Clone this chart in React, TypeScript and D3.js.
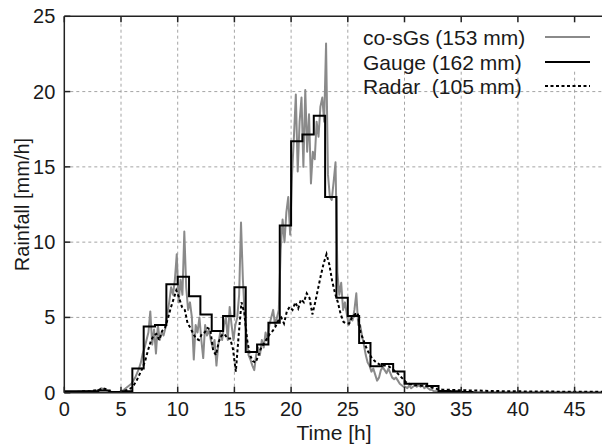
import React from "react";
import * as d3 from "d3";

// ---- Data ----
// Gauge: hourly rainfall intensity [mm/h], hour h covers [h, h+1)
const gaugeHourly: number[] = [
  0.1, 0.1, 0.1, 0.15, 0.05, 0.1, 1.6, 4.4, 4.5, 7.2,
  7.7, 6.4, 5.2, 4.1, 5.1, 7.0, 2.7, 3.2, 4.65, 11.1,
  16.7, 17.15, 18.4, 13.0, 6.3, 5.1, 3.3, 1.75, 1.9, 1.4,
  0.6, 0.6, 0.45, 0.12, 0.1, 0.05, 0, 0, 0, 0,
  0, 0, 0, 0, 0, 0, 0, 0,
];

// co-sGs: 10-minute values, one row per hour
const cosgsRows: number[][] = [
  [0.05, 0.05, 0.05, 0.05, 0.05, 0.05],
  [0.05, 0.08, 0.08, 0.08, 0.1, 0.1],
  [0.1, 0.1, 0.12, 0.12, 0.15, 0.15],
  [0.2, 0.3, 0.25, 0.2, 0.15, 0.1],
  [0.05, 0.02, 0.02, 0.02, 0.02, 0.05],
  [0.1, 0.2, 0.3, 0.4, 0.5, 0.6],
  [0.8, 1.0, 1.3, 1.6, 2.0, 2.6],
  [3.0, 3.5, 4.0, 5.4, 3.2, 4.2],
  [2.6, 4.5, 3.5, 4.0, 3.8, 4.3],
  [5.2, 6.0, 7.0, 6.5, 7.5, 9.2],
  [6.0, 7.5, 6.5, 10.7, 7.0, 5.5],
  [6.0, 5.0, 2.2, 4.5, 4.0, 5.0],
  [3.5, 2.3, 4.5, 3.8, 4.2, 3.5],
  [3.0, 3.5, 1.8, 3.2, 4.0, 3.5],
  [4.5, 5.0, 3.5, 5.7, 4.5, 3.5],
  [4.5, 5.0, 6.5, 11.3, 7.5, 5.0],
  [3.5, 2.5, 2.2, 1.8, 1.5, 2.5],
  [3.0, 2.5, 3.5, 3.0, 4.0, 3.5],
  [4.5, 5.0, 5.5, 4.5, 5.0, 5.5],
  [9.5, 11.5, 10.0, 12.0, 13.0, 10.5],
  [14.5, 17.0, 19.8, 14.7, 18.0, 19.6],
  [15.0, 20.1, 16.0, 18.5, 13.9, 16.0],
  [15.5, 18.0, 17.0, 19.0, 19.6, 18.0],
  [23.2, 14.5, 13.0, 12.8, 14.0, 15.3],
  [8.0, 6.5, 7.3, 5.5, 6.0, 5.2],
  [4.5, 5.0, 4.8, 5.5, 6.6, 4.5],
  [4.5, 3.8, 3.2, 2.5, 2.0, 1.8],
  [1.4, 1.6, 1.2, 0.8, 1.0, 1.5],
  [1.7, 1.5, 1.3, 1.6, 1.3, 1.0],
  [0.9, 1.0, 0.8, 0.6, 0.5, 0.4],
  [0.4, 0.3, 0.5, 0.3, 0.4, 0.5],
  [0.4, 0.5, 0.4, 0.5, 0.3, 0.4],
  [0.3, 0.2, 0.2, 0.1, 0.1, 0.1],
  [0.08, 0.06, 0.05, 0.05, 0.04, 0.04],
  [0.03, 0.03, 0.03, 0.03, 0.02, 0.02],
  [0.02, 0.02, 0.02, 0.02, 0.02, 0.02],
  [0.02, 0.02, 0.02, 0.02, 0.02, 0.02],
  [0.02, 0.02, 0.02, 0.02, 0.02, 0.02],
  [0.02, 0.02, 0.02, 0.02, 0.02, 0.02],
  [0.02, 0.02, 0.02, 0.02, 0.02, 0.02],
  [0.02, 0.02, 0.02, 0.02, 0.02, 0.02],
  [0.02, 0.02, 0.02, 0.02, 0.02, 0.02],
  [0.02, 0.02, 0.02, 0.02, 0.02, 0.02],
  [0.02, 0.02, 0.02, 0.02, 0.02, 0.02],
  [0.02, 0.02, 0.02, 0.02, 0.02, 0.02],
  [0.02, 0.02, 0.02, 0.02, 0.02, 0.02],
  [0.02, 0.02, 0.02, 0.02, 0.02, 0.02],
  [0.02, 0.02, 0.02, 0.02, 0.02, 0.02],
];

// Radar: 15-minute values, one row per hour
const radarRows: number[][] = [
  [0.05, 0.05, 0.05, 0.05],
  [0.05, 0.05, 0.1, 0.1],
  [0.1, 0.1, 0.15, 0.15],
  [0.2, 0.3, 0.25, 0.15],
  [0.05, 0.02, 0.02, 0.05],
  [0.1, 0.15, 0.2, 0.3],
  [0.5, 0.8, 1.2, 1.6],
  [2.1, 2.8, 3.4, 3.8],
  [3.9, 3.5, 4.1, 4.3],
  [4.9, 5.6, 6.2, 6.8],
  [6.3, 5.7, 5.5, 4.6],
  [4.3, 3.9, 3.6, 3.5],
  [3.9, 4.0, 4.3, 4.2],
  [2.8, 2.5, 3.4, 3.8],
  [3.9, 3.6, 3.6, 2.9],
  [1.4, 3.8, 6.0, 5.3],
  [3.5, 2.5, 2.1, 2.0],
  [2.5, 3.0, 3.3, 3.6],
  [3.9, 4.1, 4.4, 4.8],
  [5.0, 4.6, 5.4, 5.7],
  [5.5, 6.0, 5.6, 6.2],
  [6.0, 6.6, 6.3, 5.2],
  [6.0, 6.9, 7.8, 8.6],
  [9.2, 8.5, 7.4, 6.6],
  [6.0, 5.2, 4.7, 4.6],
  [4.6, 5.0, 5.2, 5.3],
  [4.0, 3.5, 3.0, 2.6],
  [2.3, 2.1, 1.95, 1.85],
  [1.8, 1.8, 1.75, 1.6],
  [1.45, 1.3, 1.1, 0.9],
  [0.7, 0.6, 0.55, 0.5],
  [0.5, 0.48, 0.45, 0.45],
  [0.42, 0.35, 0.3, 0.25],
  [0.22, 0.2, 0.2, 0.2],
  [0.18, 0.18, 0.17, 0.17],
  [0.16, 0.16, 0.15, 0.15],
  [0.15, 0.14, 0.14, 0.13],
  [0.13, 0.12, 0.12, 0.12],
  [0.11, 0.11, 0.1, 0.1],
  [0.1, 0.1, 0.1, 0.09],
  [0.09, 0.09, 0.08, 0.08],
  [0.08, 0.08, 0.08, 0.08],
  [0.08, 0.08, 0.08, 0.08],
  [0.08, 0.07, 0.07, 0.07],
  [0.07, 0.07, 0.07, 0.07],
  [0.07, 0.07, 0.07, 0.07],
  [0.07, 0.07, 0.07, 0.07],
  [0.07, 0.07, 0.07, 0.07],
];

const xTicks = [0, 5, 10, 15, 20, 25, 30, 35, 40, 45];
const yTicks = [0, 5, 10, 15, 20, 25];
const legendLabels = ["co-sGs (153 mm)", "Gauge (162 mm)", "Radar  (105 mm)"];

const W = 602;
const H = 446;
const FONT = "'Liberation Sans', Arial, Helvetica, sans-serif";

export default function App() {
  const x = d3.scaleLinear().domain([0, 48]).range([64.3, 64.3 + 48 * 11.34]);
  const y = d3.scaleLinear().domain([0, 25]).range([392.7, 16.3]);
  const left = x(0);
  const right = W;
  const top = y(25);
  const bottom = y(0);

  const cosgs: [number, number][] = [];
  cosgsRows.forEach((row, h) =>
    row.forEach((v, i) => cosgs.push([h + (i + 0.5) / row.length, v]))
  );
  const radar: [number, number][] = [];
  radarRows.forEach((row, h) =>
    row.forEach((v, i) => radar.push([h + (i + 0.5) / row.length, v]))
  );
  const gauge: [number, number][] = gaugeHourly.map((v, h) => [h, v]);
  gauge.push([gaugeHourly.length, gaugeHourly[gaugeHourly.length - 1]]);

  const line = d3
    .line<[number, number]>()
    .x((d) => x(d[0]))
    .y((d) => y(d[1]));
  const stepLine = d3
    .line<[number, number]>()
    .x((d) => x(d[0]))
    .y((d) => y(d[1]))
    .curve(d3.curveStepAfter);

  const tickLen = 6;
  const legX = 363;
  const legRowY = [37, 62, 86];
  const textColor = "#1a1a1a";

  return (
    <svg
      width={W}
      height={H}
      style={{ position: "absolute", left: 0, top: 0, background: "#fff" }}
      fontFamily={FONT}
    >
      <defs>
        <clipPath id="plotclip">
          <rect x={left} y={top} width={right - left} height={bottom - top} />
        </clipPath>
      </defs>
      <rect x={0} y={0} width={W} height={H} fill="#fff" />
      {/* grid */}
      <g stroke="#9a9a9a" strokeWidth={0.9} strokeDasharray="3,3">
        {xTicks
          .filter((t) => t > 0)
          .map((t) => (
            <line key={"gx" + t} x1={x(t)} x2={x(t)} y1={bottom} y2={top} />
          ))}
        {yTicks
          .filter((t) => t > 0 && t < 25)
          .map((t) => (
            <line key={"gy" + t} x1={left} x2={right} y1={y(t)} y2={y(t)} />
          ))}
      </g>
      {/* legend background hiding grid under the first rows */}
      <rect x={352} y={top + 1} width={W - 352} height={68 - top} fill="#fff" />
      {/* series */}
      <g clipPath="url(#plotclip)" fill="none">
        <path d={line(cosgs) || ""} stroke="#8a8a8a" strokeWidth={2} strokeLinejoin="round" />
        <path d={line(radar) || ""} stroke="#000" strokeWidth={2} strokeDasharray="3,2.5" />
        <path d={stepLine(gauge) || ""} stroke="#000" strokeWidth={2} />
      </g>
      {/* border + ticks */}
      <g stroke="#222" strokeWidth={1.5}>
        <line x1={left} x2={right} y1={bottom} y2={bottom} />
        <line x1={left} x2={right} y1={top} y2={top} />
        <line x1={left} x2={left} y1={top} y2={bottom} />
        {xTicks.map((t) => (
          <g key={"tx" + t}>
            <line x1={x(t)} x2={x(t)} y1={bottom} y2={bottom - tickLen} />
            <line x1={x(t)} x2={x(t)} y1={top} y2={top + tickLen} />
          </g>
        ))}
        {yTicks.map((t) => (
          <line key={"ty" + t} x1={left} x2={left + tickLen} y1={y(t)} y2={y(t)} />
        ))}
      </g>
      {/* tick labels */}
      <g fontSize={20} fill={textColor}>
        {xTicks.map((t) => (
          <text key={"lx" + t} x={x(t)} y={bottom + 23} textAnchor="middle">
            {t}
          </text>
        ))}
        {yTicks.map((t) => (
          <text key={"ly" + t} x={left - 9} y={y(t) + 7} textAnchor="end">
            {t}
          </text>
        ))}
      </g>
      {/* axis titles */}
      <text x={334} y={440} fontSize={21} textAnchor="middle" fill={textColor}>
        Time [h]
      </text>
      <text
        transform={`translate(29, ${(top + bottom) / 2}) rotate(-90)`}
        fontSize={20}
        textAnchor="middle"
        fill={textColor}
      >
        Rainfall [mm/h]
      </text>
      {/* legend */}
      <g fontSize={21} fill={textColor}>
        {legendLabels.map((lab, i) => (
          <text
            key={lab}
            x={legX}
            y={legRowY[i] + 7.5}
            style={{ whiteSpace: "pre" }}
          >
            {lab}
          </text>
        ))}
      </g>
      <line x1={545} x2={590} y1={legRowY[0]} y2={legRowY[0]} stroke="#8a8a8a" strokeWidth={2} />
      <line x1={545} x2={590} y1={legRowY[1]} y2={legRowY[1]} stroke="#000" strokeWidth={2} />
      <line x1={545} x2={590} y1={legRowY[2]} y2={legRowY[2]} stroke="#000" strokeWidth={2} strokeDasharray="3,2.5" />
    </svg>
  );
}
